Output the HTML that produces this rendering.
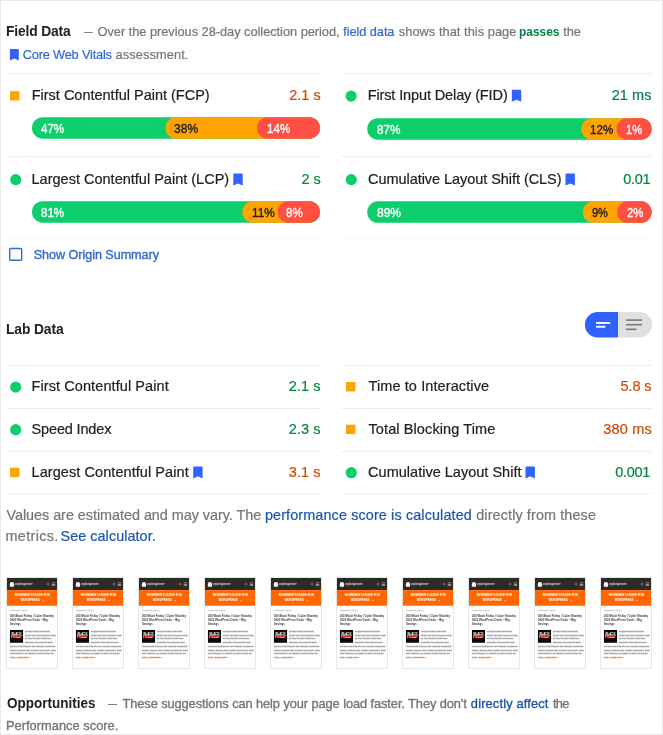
<!DOCTYPE html>
<html lang="en">
<head>
<meta charset="utf-8">
<title>PageSpeed Insights</title>
<style>
html,body{margin:0;padding:0;background:#fff;}
body{width:663px;height:735px;position:relative;overflow:hidden;font-family:"Liberation Sans",sans-serif;color:#212121;}
#frame{position:absolute;left:0;top:0;width:661px;height:733px;border:1px solid #e9e9e9;}
.t{position:absolute;white-space:nowrap;line-height:1;}
.dash{transform:scaleX(0.69);transform-origin:0 50%;}
.th{position:absolute;width:50.600px;height:89.800px;overflow:hidden;box-shadow:0 0 0 1px #e6e6e6;background:#fff;}
.pg{position:absolute;left:0;top:0;width:360px;height:640px;transform:scale(0.140833);transform-origin:0 0;background:#fff;white-space:nowrap;}
.pg .nav{position:absolute;left:0;top:0;width:360px;height:86px;background:#2e2a26;}
.pg .logo{position:absolute;left:20px;top:29px;width:30px;height:34px;background:#f4f4f4;border-radius:14px 14px 5px 5px;}
.pg .brand{position:absolute;left:57px;top:34px;font-size:23px;font-weight:bold;color:#d0d0d0;letter-spacing:-0.300px;line-height:1;}
.pg .ic1{position:absolute;left:283px;top:35px;width:11px;height:11px;border:3px solid #bdbdbd;border-radius:50%;}
.pg .ic2{position:absolute;left:318px;top:33px;width:24px;height:4px;background:#dcdcdc;box-shadow:0 10px 0 #dcdcdc,0 20px 0 #dcdcdc;}
.pg .hero{position:absolute;left:0;top:86px;width:360px;height:111px;background:#ff6600;color:#fff;text-align:center;font-weight:normal;-webkit-text-stroke:0.800px #fff;font-size:19.500px;line-height:35px;padding-top:16px;box-sizing:border-box;letter-spacing:.9px;}
.pg .cat{position:absolute;left:21px;top:221px;font-size:12.300px;color:#cdcdcd;-webkit-text-stroke:2px #cdcdcd;line-height:1;}
.pg .ttl{position:absolute;left:21px;top:256px;font-size:20px;font-weight:bold;color:#3c3c3c;line-height:28.300px;}
.pg .img{position:absolute;left:21px;top:369px;width:93px;height:91px;background:#0a0a0a;color:#fff;font-weight:bold;font-size:21px;line-height:22px;text-align:center;padding-top:18px;box-sizing:border-box;letter-spacing:-0.500px;}
.pg .img u{display:block;text-decoration:none;color:#fff;}
.pg .img b{position:absolute;left:14px;top:41px;width:66px;height:9px;background:#e02b20;}
.pg .txt{position:absolute;left:21px;top:364px;font-size:15.400px;line-height:26.600px;color:#a4a4a4;-webkit-text-stroke:3.200px #a4a4a4;}
.pg .txt s{display:inline-block;width:106px;height:1px;text-decoration:none;}
.pg .txt a{color:#ff6600;font-weight:bold;-webkit-text-stroke:2px #ff7a1f;color:#ff7a1f;}
.pg .ft{position:absolute;left:21px;top:606px;width:320px;height:2px;background:#efefef;}
</style>
</head>
<body>
<div id="frame"></div>

<span class="t dash" style="left:83.700px;top:26px;color:#757575;font-size:12.800px">—</span>
<span class="t dash" style="left:108px;top:698px;color:#757575;font-size:12.800px;-webkit-text-stroke:0.35px #757575">—</span>
<svg id="shapes" width="663" height="735" viewBox="0 0 663 735" style="position:absolute;left:0;top:0">
<rect x="6.6" y="73" width="313.4" height="1" fill="#ececec"/>
<rect x="342" y="73" width="309.6" height="1" fill="#ececec"/>
<rect x="6.6" y="156" width="313.4" height="1" fill="#ececec"/>
<rect x="342" y="156" width="309.6" height="1" fill="#ececec"/>
<rect x="6.6" y="365" width="313.4" height="1" fill="#ececec"/>
<rect x="342" y="365" width="309.6" height="1" fill="#ececec"/>
<rect x="6.6" y="408" width="313.4" height="1" fill="#ececec"/>
<rect x="342" y="408" width="309.6" height="1" fill="#ececec"/>
<rect x="6.6" y="451" width="313.4" height="1" fill="#ececec"/>
<rect x="342" y="451" width="309.6" height="1" fill="#ececec"/>
<rect x="6.6" y="493" width="313.4" height="1" fill="#f0f0f0"/>
<rect x="342" y="493" width="309.6" height="1" fill="#f0f0f0"/>
<rect x="6.6" y="237.6" width="313.4" height="1" fill="#f7f7f7"/>
<rect x="342" y="237.6" width="309.6" height="1" fill="#f7f7f7"/>
<path d="M10.7 49h7.3a0.8 0.8 0 0 1 0.8 0.8V60.5L14.35 58.4 9.9 60.5V49.8A0.8 0.8 0 0 1 10.7 49z" fill="#2f62ff"/>
<rect x="10" y="91.1" width="9.400" height="9.400" fill="#ffa400"/>
<circle cx="351.1" cy="96.1" r="5.600" fill="#0cce6b"/>
<circle cx="15.7" cy="179.6" r="5.600" fill="#0cce6b"/>
<circle cx="351.3" cy="179.6" r="5.600" fill="#0cce6b"/>
<circle cx="15.7" cy="387.1" r="5.600" fill="#0cce6b"/>
<rect x="346" y="382" width="9.400" height="9.400" fill="#ffa400"/>
<circle cx="15.7" cy="429.7" r="5.600" fill="#0cce6b"/>
<rect x="346" y="424.7" width="9.400" height="9.400" fill="#ffa400"/>
<rect x="10" y="467.7" width="9.400" height="9.400" fill="#ffa400"/>
<circle cx="351.3" cy="472.7" r="5.600" fill="#0cce6b"/>
<path d="M512.6 89.8h7.8a0.8 0.8 0 0 1 0.8 0.8V101.8L516.5 99.7 511.8 101.8V90.6A0.8 0.8 0 0 1 512.6 89.8z" fill="#2f62ff"/>
<path d="M234.1 173.5h7.8a0.8 0.8 0 0 1 0.8 0.8V185.5L238 183.4 233.3 185.5V174.3A0.8 0.8 0 0 1 234.1 173.5z" fill="#2f62ff"/>
<path d="M566.3 173.5h7.8a0.8 0.8 0 0 1 0.8 0.8V185.5L570.2 183.4 565.5 185.5V174.3A0.8 0.8 0 0 1 566.3 173.5z" fill="#2f62ff"/>
<path d="M194 466.4h7.8a0.8 0.8 0 0 1 0.8 0.8V478.4L197.9 476.3 193.2 478.4V467.2A0.8 0.8 0 0 1 194 466.4z" fill="#2f62ff"/>
<path d="M526.3 466.4h7.8a0.8 0.8 0 0 1 0.8 0.8V478.4L530.2 476.3 525.5 478.4V467.2A0.8 0.8 0 0 1 526.3 466.4z" fill="#2f62ff"/>
<rect x="32" y="117.2" width="287.9" height="21.5" rx="10.75" fill="#0cce6b"/>
<rect x="165.5" y="117.2" width="154.4" height="21.5" rx="10.75" fill="#ffa400"/>
<rect x="257" y="117.2" width="62.9" height="21.5" rx="10.75" fill="#ff4e42"/>
<rect x="367.2" y="118.2" width="284.4" height="21.5" rx="10.75" fill="#0cce6b"/>
<rect x="581.2" y="118.2" width="70.4" height="21.5" rx="10.75" fill="#ffa400"/>
<rect x="616.5" y="118.2" width="35.1" height="21.5" rx="10.75" fill="#ff4e42"/>
<rect x="32" y="201.2" width="287.9" height="21.5" rx="10.75" fill="#0cce6b"/>
<rect x="242.2" y="201.2" width="77.7" height="21.5" rx="10.75" fill="#ffa400"/>
<rect x="277.7" y="201.2" width="42.2" height="21.5" rx="10.75" fill="#ff4e42"/>
<rect x="367.2" y="201.3" width="284.4" height="21.5" rx="10.75" fill="#0cce6b"/>
<rect x="582.7" y="201.3" width="68.9" height="21.5" rx="10.75" fill="#ffa400"/>
<rect x="617.1" y="201.3" width="34.5" height="21.5" rx="10.75" fill="#ff4e42"/>
<rect x="9.700" y="248.500" width="12" height="11.800" rx="1.100" fill="#fff" stroke="#3367d6" stroke-width="1.400"/>
<g transform="translate(584.900 311.900)"><path d="M12.800 0H33.200V25.600H12.800A12.800 12.800 0 0 1 12.800 0z" fill="#3061ff"/><path d="M33.200 0H54.400A12.800 12.800 0 0 1 54.400 25.600H33.200z" fill="#e0e0e0"/><rect x="11.200" y="10.100" width="14.100" height="1.900" fill="#fff"/><rect x="11.200" y="13.900" width="9.100" height="1.900" fill="#fff"/><rect x="41" y="7.400" width="16.100" height="1.600" fill="#7a7a7a"/><rect x="41" y="12" width="16.100" height="1.600" fill="#7a7a7a"/><rect x="41" y="16.600" width="10.600" height="1.600" fill="#7a7a7a"/></g>
</svg>
<span class="t" id="h1" style="left:6.00px;top:25.00px;font-size:13.8px;font-weight:bold;color:#212121;letter-spacing:-0.137px;">Field Data</span>
<span class="t" id="s1a" style="left:97.51px;top:26.00px;font-size:12.8px;color:#757575;letter-spacing:-0.028px;-webkit-text-stroke:0.2px #757575;">Over the previous 28-day collection period,</span>
<span class="t" id="s1b" style="left:343.16px;top:26.00px;font-size:12.8px;color:#3367d6;letter-spacing:-0.067px;-webkit-text-stroke:0.2px #3367d6;">field data</span>
<span class="t" id="s1c" style="left:398.78px;top:26.00px;font-size:12.8px;color:#757575;letter-spacing:0.051px;-webkit-text-stroke:0.2px #757575;">shows that this page</span>
<span class="t" id="s1d" style="left:519.07px;top:26.00px;font-size:12.8px;font-weight:bold;color:#018642;letter-spacing:0.000px;transform:scaleX(0.931);transform-origin:0 50%;">passes</span>
<span class="t" id="s1e" style="left:563.17px;top:26.00px;font-size:12.8px;color:#757575;letter-spacing:-0.079px;-webkit-text-stroke:0.2px #757575;">the</span>
<span class="t" id="s2a" style="left:22.74px;top:49.00px;font-size:12.8px;color:#3367d6;letter-spacing:-0.197px;-webkit-text-stroke:0.2px #3367d6;">Core Web Vitals</span>
<span class="t" id="s2b" style="left:115.53px;top:49.00px;font-size:12.8px;color:#757575;letter-spacing:0.108px;-webkit-text-stroke:0.2px #757575;">assessment.</span>
<span class="t" id="mf1" style="left:31.71px;top:88.00px;font-size:14.5px;color:#212121;letter-spacing:-0.005px;-webkit-text-stroke:0.2px #212121;">First Contentful Paint (FCP)</span>
<span class="t" id="vf1" style="left:289.13px;top:88.00px;font-size:14.5px;color:#d04900;letter-spacing:0.018px;-webkit-text-stroke:0.2px #d04900;">2.1 s</span>
<span class="t" id="mf2" style="left:367.66px;top:88.00px;font-size:14.5px;color:#212121;letter-spacing:-0.116px;-webkit-text-stroke:0.2px #212121;">First Input Delay (FID)</span>
<span class="t" id="vf2" style="left:611.73px;top:88.00px;font-size:14.5px;color:#018642;letter-spacing:0.068px;-webkit-text-stroke:0.2px #018642;">21 ms</span>
<span class="t" id="mf3" style="left:31.56px;top:172.00px;font-size:14.5px;color:#212121;letter-spacing:0.005px;-webkit-text-stroke:0.2px #212121;">Largest Contentful Paint (LCP)</span>
<span class="t" id="vf3" style="left:301.43px;top:172.00px;font-size:14.5px;color:#018642;letter-spacing:-0.014px;-webkit-text-stroke:0.2px #018642;">2 s</span>
<span class="t" id="mf4" style="left:368.11px;top:172.00px;font-size:14.5px;color:#212121;letter-spacing:-0.057px;-webkit-text-stroke:0.2px #212121;">Cumulative Layout Shift (CLS)</span>
<span class="t" id="vf4" style="left:623.18px;top:172.00px;font-size:14.5px;color:#018642;letter-spacing:-0.253px;-webkit-text-stroke:0.2px #018642;">0.01</span>
<span class="t" id="b1a" style="left:41.23px;top:123.00px;font-size:12.2px;color:#fff;letter-spacing:0.000px;-webkit-text-stroke:0.38px #fff;transform:scaleX(0.949);transform-origin:0 50%;">47%</span>
<span class="t" id="b1b" style="left:174.30px;top:123.00px;font-size:12.2px;color:#212121;letter-spacing:0.000px;-webkit-text-stroke:0.38px #212121;transform:scaleX(0.988);transform-origin:0 50%;">38%</span>
<span class="t" id="b1c" style="left:267.19px;top:123.00px;font-size:12.2px;color:#fff;letter-spacing:0.000px;-webkit-text-stroke:0.38px #fff;transform:scaleX(0.950);transform-origin:0 50%;">14%</span>
<span class="t" id="b2a" style="left:376.66px;top:124.00px;font-size:12.2px;color:#fff;letter-spacing:0.000px;-webkit-text-stroke:0.38px #fff;transform:scaleX(0.964);transform-origin:0 50%;">87%</span>
<span class="t" id="b2b" style="left:590.44px;top:124.00px;font-size:12.2px;color:#212121;letter-spacing:0.000px;-webkit-text-stroke:0.38px #212121;transform:scaleX(0.950);transform-origin:0 50%;">12%</span>
<span class="t" id="b2c" style="left:625.96px;top:124.00px;font-size:12.2px;color:#fff;letter-spacing:0.000px;-webkit-text-stroke:0.38px #fff;transform:scaleX(0.906);transform-origin:0 50%;">1%</span>
<span class="t" id="b3a" style="left:41.16px;top:207.00px;font-size:12.2px;color:#fff;letter-spacing:0.000px;-webkit-text-stroke:0.38px #fff;transform:scaleX(0.948);transform-origin:0 50%;">81%</span>
<span class="t" id="b3b" style="left:251.69px;top:207.00px;font-size:12.2px;color:#212121;letter-spacing:0.000px;-webkit-text-stroke:0.38px #212121;transform:scaleX(0.967);transform-origin:0 50%;">11%</span>
<span class="t" id="b3c" style="left:286.16px;top:207.00px;font-size:12.2px;color:#fff;letter-spacing:0.000px;-webkit-text-stroke:0.38px #fff;transform:scaleX(0.946);transform-origin:0 50%;">8%</span>
<span class="t" id="b4a" style="left:376.85px;top:207.00px;font-size:12.2px;color:#fff;letter-spacing:0.000px;-webkit-text-stroke:0.38px #fff;transform:scaleX(0.985);transform-origin:0 50%;">89%</span>
<span class="t" id="b4b" style="left:592.05px;top:207.00px;font-size:12.2px;color:#212121;letter-spacing:0.000px;-webkit-text-stroke:0.38px #212121;transform:scaleX(0.901);transform-origin:0 50%;">9%</span>
<span class="t" id="b4c" style="left:626.66px;top:207.00px;font-size:12.2px;color:#fff;letter-spacing:0.000px;-webkit-text-stroke:0.38px #fff;transform:scaleX(0.929);transform-origin:0 50%;">2%</span>
<span class="t" id="so" style="left:33.69px;top:249.00px;font-size:12.6px;color:#3367d6;letter-spacing:-0.038px;-webkit-text-stroke:0.35px #3367d6;">Show Origin Summary</span>
<span class="t" id="h2" style="left:6.00px;top:323.00px;font-size:13.8px;font-weight:bold;color:#212121;letter-spacing:-0.100px;">Lab Data</span>
<span class="t" id="ml1" style="left:31.56px;top:379.00px;font-size:14.5px;color:#212121;letter-spacing:0.084px;-webkit-text-stroke:0.2px #212121;">First Contentful Paint</span>
<span class="t" id="vl1" style="left:288.73px;top:379.00px;font-size:14.5px;color:#018642;letter-spacing:0.068px;-webkit-text-stroke:0.2px #018642;">2.1 s</span>
<span class="t" id="ml2" style="left:368.50px;top:379.00px;font-size:14.5px;color:#212121;letter-spacing:0.102px;-webkit-text-stroke:0.2px #212121;">Time to Interactive</span>
<span class="t" id="vl2" style="left:620.45px;top:379.00px;font-size:14.5px;color:#d04900;letter-spacing:-0.063px;-webkit-text-stroke:0.2px #d04900;">5.8 s</span>
<span class="t" id="ml3" style="left:31.57px;top:422.00px;font-size:14.5px;color:#212121;letter-spacing:-0.157px;-webkit-text-stroke:0.2px #212121;">Speed Index</span>
<span class="t" id="vl3" style="left:288.73px;top:422.00px;font-size:14.5px;color:#018642;letter-spacing:0.068px;-webkit-text-stroke:0.2px #018642;">2.3 s</span>
<span class="t" id="ml4" style="left:368.50px;top:422.00px;font-size:14.5px;color:#212121;letter-spacing:0.102px;-webkit-text-stroke:0.2px #212121;">Total Blocking Time</span>
<span class="t" id="vl4" style="left:603.37px;top:422.00px;font-size:14.5px;color:#d04900;letter-spacing:0.166px;-webkit-text-stroke:0.2px #d04900;">380 ms</span>
<span class="t" id="ml5" style="left:31.56px;top:465.00px;font-size:14.5px;color:#212121;letter-spacing:0.068px;-webkit-text-stroke:0.2px #212121;">Largest Contentful Paint</span>
<span class="t" id="vl5" style="left:288.77px;top:465.00px;font-size:14.5px;color:#d04900;letter-spacing:0.058px;-webkit-text-stroke:0.2px #d04900;">3.1 s</span>
<span class="t" id="ml6" style="left:368.11px;top:465.00px;font-size:14.5px;color:#212121;letter-spacing:0.010px;-webkit-text-stroke:0.2px #212121;">Cumulative Layout Shift</span>
<span class="t" id="vl6" style="left:615.18px;top:465.00px;font-size:14.5px;color:#018642;letter-spacing:-0.314px;-webkit-text-stroke:0.2px #018642;">0.001</span>
<span class="t" id="p1a" style="left:6.44px;top:508.00px;font-size:14.4px;color:#757575;letter-spacing:-0.032px;-webkit-text-stroke:0.2px #757575;">Values are estimated and may vary. The</span>
<span class="t" id="p1b" style="left:264.90px;top:508.00px;font-size:14.4px;color:#1a55af;letter-spacing:0.125px;-webkit-text-stroke:0.2px #1a55af;">performance score is calculated</span>
<span class="t" id="p1c" style="left:476.26px;top:508.00px;font-size:14.4px;color:#757575;letter-spacing:0.115px;-webkit-text-stroke:0.2px #757575;">directly from these</span>
<span class="t" id="p2a" style="left:5.50px;top:529.00px;font-size:14.4px;color:#757575;letter-spacing:0.357px;-webkit-text-stroke:0.2px #757575;">metrics.</span>
<span class="t" id="p2b" style="left:60.47px;top:529.00px;font-size:14.4px;color:#1a55af;letter-spacing:0.059px;-webkit-text-stroke:0.2px #1a55af;">See calculator.</span>
<span class="t" id="h3" style="left:6.71px;top:696.00px;font-size:14.2px;font-weight:bold;color:#212121;letter-spacing:0.000px;transform:scaleX(0.953);transform-origin:0 50%;">Opportunities</span>
<span class="t" id="o1a" style="left:122.49px;top:698.00px;font-size:12.8px;color:#757575;letter-spacing:-0.074px;-webkit-text-stroke:0.35px #757575;">These suggestions can help your page load faster. They don't</span>
<span class="t" id="o1b" style="left:470.85px;top:698.00px;font-size:12.8px;color:#1a55af;letter-spacing:0.168px;-webkit-text-stroke:0.35px #1a55af;">directly affect</span>
<span class="t" id="o1c" style="left:552.98px;top:698.00px;font-size:12.8px;color:#757575;letter-spacing:-0.688px;-webkit-text-stroke:0.35px #757575;">the</span>
<span class="t" id="o2" style="left:6.00px;top:720.00px;font-size:12.8px;color:#757575;letter-spacing:0.038px;-webkit-text-stroke:0.35px #757575;">Performance score.</span>
<div class="th" style="left:6.9px;top:577.900px"><div class="pg"><div class="nav"><div class="logo"></div><div class="brand">wpbeginner</div><div class="ic1"></div><div class="ic2"></div></div><div class="hero">BEGINNER'S GUIDE FOR<br>WORDPRESS &nbsp;&#8964;</div><div class="cat">WORDPRESS DEALS</div><div class="ttl">200 Black Friday / Cyber Monday<br>2020 WordPress Deals – Big<br>Savings</div><div class="img">BLACK<b></b><u>FRIDAY</u></div><div class="txt"><s></s>Looking for the best Black<br><s></s>Friday and Cyber Monday deals<br><s></s>on your favorite WordPress<br><s></s>products? The next few days<br>are the perfect time to buy premium WordPress<br>plugins, themes, web hosting, and tools to grow<br>your business. As always, to help you find the<br>best… <a>Read More »</a></div><div class="ft"></div></div></div>
<div class="th" style="left:72.9px;top:577.900px"><div class="pg"><div class="nav"><div class="logo"></div><div class="brand">wpbeginner</div><div class="ic1"></div><div class="ic2"></div></div><div class="hero">BEGINNER'S GUIDE FOR<br>WORDPRESS &nbsp;&#8964;</div><div class="cat">WORDPRESS DEALS</div><div class="ttl">200 Black Friday / Cyber Monday<br>2020 WordPress Deals – Big<br>Savings</div><div class="img">BLACK<b></b><u>FRIDAY</u></div><div class="txt"><s></s>Looking for the best Black<br><s></s>Friday and Cyber Monday deals<br><s></s>on your favorite WordPress<br><s></s>products? The next few days<br>are the perfect time to buy premium WordPress<br>plugins, themes, web hosting, and tools to grow<br>your business. As always, to help you find the<br>best… <a>Read More »</a></div><div class="ft"></div></div></div>
<div class="th" style="left:138.9px;top:577.900px"><div class="pg"><div class="nav"><div class="logo"></div><div class="brand">wpbeginner</div><div class="ic1"></div><div class="ic2"></div></div><div class="hero">BEGINNER'S GUIDE FOR<br>WORDPRESS &nbsp;&#8964;</div><div class="cat">WORDPRESS DEALS</div><div class="ttl">200 Black Friday / Cyber Monday<br>2020 WordPress Deals – Big<br>Savings</div><div class="img">BLACK<b></b><u>FRIDAY</u></div><div class="txt"><s></s>Looking for the best Black<br><s></s>Friday and Cyber Monday deals<br><s></s>on your favorite WordPress<br><s></s>products? The next few days<br>are the perfect time to buy premium WordPress<br>plugins, themes, web hosting, and tools to grow<br>your business. As always, to help you find the<br>best… <a>Read More »</a></div><div class="ft"></div></div></div>
<div class="th" style="left:204.9px;top:577.900px"><div class="pg"><div class="nav"><div class="logo"></div><div class="brand">wpbeginner</div><div class="ic1"></div><div class="ic2"></div></div><div class="hero">BEGINNER'S GUIDE FOR<br>WORDPRESS &nbsp;&#8964;</div><div class="cat">WORDPRESS DEALS</div><div class="ttl">200 Black Friday / Cyber Monday<br>2020 WordPress Deals – Big<br>Savings</div><div class="img">BLACK<b></b><u>FRIDAY</u></div><div class="txt"><s></s>Looking for the best Black<br><s></s>Friday and Cyber Monday deals<br><s></s>on your favorite WordPress<br><s></s>products? The next few days<br>are the perfect time to buy premium WordPress<br>plugins, themes, web hosting, and tools to grow<br>your business. As always, to help you find the<br>best… <a>Read More »</a></div><div class="ft"></div></div></div>
<div class="th" style="left:270.9px;top:577.900px"><div class="pg"><div class="nav"><div class="logo"></div><div class="brand">wpbeginner</div><div class="ic1"></div><div class="ic2"></div></div><div class="hero">BEGINNER'S GUIDE FOR<br>WORDPRESS &nbsp;&#8964;</div><div class="cat">WORDPRESS DEALS</div><div class="ttl">200 Black Friday / Cyber Monday<br>2020 WordPress Deals – Big<br>Savings</div><div class="img">BLACK<b></b><u>FRIDAY</u></div><div class="txt"><s></s>Looking for the best Black<br><s></s>Friday and Cyber Monday deals<br><s></s>on your favorite WordPress<br><s></s>products? The next few days<br>are the perfect time to buy premium WordPress<br>plugins, themes, web hosting, and tools to grow<br>your business. As always, to help you find the<br>best… <a>Read More »</a></div><div class="ft"></div></div></div>
<div class="th" style="left:336.9px;top:577.900px"><div class="pg"><div class="nav"><div class="logo"></div><div class="brand">wpbeginner</div><div class="ic1"></div><div class="ic2"></div></div><div class="hero">BEGINNER'S GUIDE FOR<br>WORDPRESS &nbsp;&#8964;</div><div class="cat">WORDPRESS DEALS</div><div class="ttl">200 Black Friday / Cyber Monday<br>2020 WordPress Deals – Big<br>Savings</div><div class="img">BLACK<b></b><u>FRIDAY</u></div><div class="txt"><s></s>Looking for the best Black<br><s></s>Friday and Cyber Monday deals<br><s></s>on your favorite WordPress<br><s></s>products? The next few days<br>are the perfect time to buy premium WordPress<br>plugins, themes, web hosting, and tools to grow<br>your business. As always, to help you find the<br>best… <a>Read More »</a></div><div class="ft"></div></div></div>
<div class="th" style="left:402.9px;top:577.900px"><div class="pg"><div class="nav"><div class="logo"></div><div class="brand">wpbeginner</div><div class="ic1"></div><div class="ic2"></div></div><div class="hero">BEGINNER'S GUIDE FOR<br>WORDPRESS &nbsp;&#8964;</div><div class="cat">WORDPRESS DEALS</div><div class="ttl">200 Black Friday / Cyber Monday<br>2020 WordPress Deals – Big<br>Savings</div><div class="img">BLACK<b></b><u>FRIDAY</u></div><div class="txt"><s></s>Looking for the best Black<br><s></s>Friday and Cyber Monday deals<br><s></s>on your favorite WordPress<br><s></s>products? The next few days<br>are the perfect time to buy premium WordPress<br>plugins, themes, web hosting, and tools to grow<br>your business. As always, to help you find the<br>best… <a>Read More »</a></div><div class="ft"></div></div></div>
<div class="th" style="left:468.9px;top:577.900px"><div class="pg"><div class="nav"><div class="logo"></div><div class="brand">wpbeginner</div><div class="ic1"></div><div class="ic2"></div></div><div class="hero">BEGINNER'S GUIDE FOR<br>WORDPRESS &nbsp;&#8964;</div><div class="cat">WORDPRESS DEALS</div><div class="ttl">200 Black Friday / Cyber Monday<br>2020 WordPress Deals – Big<br>Savings</div><div class="img">BLACK<b></b><u>FRIDAY</u></div><div class="txt"><s></s>Looking for the best Black<br><s></s>Friday and Cyber Monday deals<br><s></s>on your favorite WordPress<br><s></s>products? The next few days<br>are the perfect time to buy premium WordPress<br>plugins, themes, web hosting, and tools to grow<br>your business. As always, to help you find the<br>best… <a>Read More »</a></div><div class="ft"></div></div></div>
<div class="th" style="left:534.9px;top:577.900px"><div class="pg"><div class="nav"><div class="logo"></div><div class="brand">wpbeginner</div><div class="ic1"></div><div class="ic2"></div></div><div class="hero">BEGINNER'S GUIDE FOR<br>WORDPRESS &nbsp;&#8964;</div><div class="cat">WORDPRESS DEALS</div><div class="ttl">200 Black Friday / Cyber Monday<br>2020 WordPress Deals – Big<br>Savings</div><div class="img">BLACK<b></b><u>FRIDAY</u></div><div class="txt"><s></s>Looking for the best Black<br><s></s>Friday and Cyber Monday deals<br><s></s>on your favorite WordPress<br><s></s>products? The next few days<br>are the perfect time to buy premium WordPress<br>plugins, themes, web hosting, and tools to grow<br>your business. As always, to help you find the<br>best… <a>Read More »</a></div><div class="ft"></div></div></div>
<div class="th" style="left:600.9px;top:577.900px"><div class="pg"><div class="nav"><div class="logo"></div><div class="brand">wpbeginner</div><div class="ic1"></div><div class="ic2"></div></div><div class="hero">BEGINNER'S GUIDE FOR<br>WORDPRESS &nbsp;&#8964;</div><div class="cat">WORDPRESS DEALS</div><div class="ttl">200 Black Friday / Cyber Monday<br>2020 WordPress Deals – Big<br>Savings</div><div class="img">BLACK<b></b><u>FRIDAY</u></div><div class="txt"><s></s>Looking for the best Black<br><s></s>Friday and Cyber Monday deals<br><s></s>on your favorite WordPress<br><s></s>products? The next few days<br>are the perfect time to buy premium WordPress<br>plugins, themes, web hosting, and tools to grow<br>your business. As always, to help you find the<br>best… <a>Read More »</a></div><div class="ft"></div></div></div>

</body>
</html>
